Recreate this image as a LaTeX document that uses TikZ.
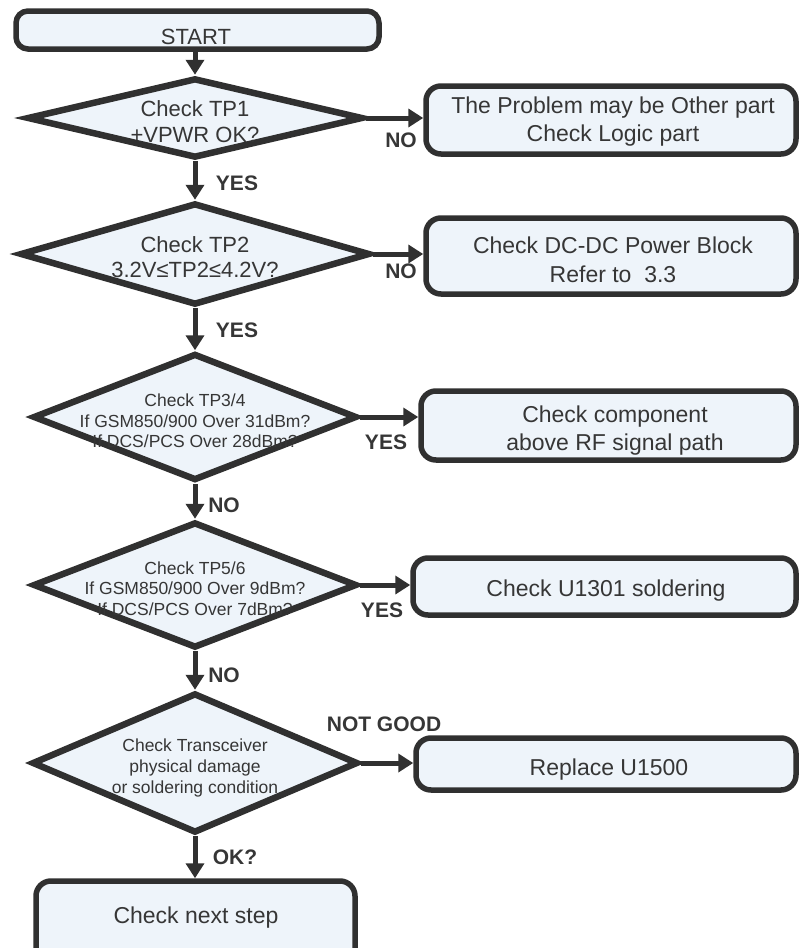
\documentclass[tikz,border=0pt]{standalone}
\usepackage{fontspec}
\setmainfont{Liberation Sans}
\usetikzlibrary{shapes.geometric,arrows.meta}
\definecolor{ln}{HTML}{303030}
\definecolor{fl}{HTML}{EEF4FA}
\definecolor{tx}{HTML}{363636}
\begin{document}
\begin{tikzpicture}[x=1pt,y=-1pt,
  box/.style={draw=ln,fill=fl,line width=5.5pt,rounded corners=15pt,inner sep=0pt},
  dia/.style={diamond,draw=ln,fill=fl,line width=6.5pt,inner sep=0pt},
  btext/.style={text=tx,align=center,inner sep=0pt,font=\fontsize{23}{28}\selectfont},
  dtext/.style={text=tx,align=center,inner sep=0pt},
  lab/.style={text=tx,font=\bfseries\fontsize{21}{24}\selectfont,inner sep=0pt},
  arr/.style={draw=ln,line width=5pt,-{Triangle[length=15pt,width=18pt]}}]
\useasboundingbox (0,0) rectangle (800,948);
\clip (0,0) rectangle (800,948);

% START
\node[box,minimum width=363pt,minimum height=38pt,rounded corners=12pt] (start) at (197.5,30) {};
\node[dtext,font=\fontsize{22}{26}\selectfont] (startt) at (196,37) {START};

% decision 1
\node[dia,minimum width=336pt,minimum height=80pt] (d1) at (195,118) {};
\node[dtext,font=\fontsize{22}{26}\selectfont] (d1t) at (195,121.5) {Check TP1\\+VPWR OK?};
\node[box,minimum width=370pt,minimum height=68pt] (b1) at (611,120) {};
\node[btext] (b1t) at (613,122) {The Problem may be Other part\\Check Logic part};

% decision 2
\node[dia,minimum width=350pt,minimum height=102pt] (d2) at (195,254) {};
\node[dtext,font=\fontsize{22}{25}\selectfont] (d2t) at (195,257) {Check TP2\\3.2V≤TP2≤4.2V?};
\node[box,minimum width=370pt,minimum height=76pt] (b2) at (611,256) {};
\node[btext,font=\fontsize{23}{29}\selectfont] (b2t) at (613,259.5) {Check DC-DC Power Block\\Refer to\ \ 3.3};

% decision 3
\node[dia,minimum width=324pt,minimum height=127pt] (d3) at (195,417) {};
\node[dtext,font=\fontsize{17.5}{20.5}\selectfont] (d3t) at (195,421) {Check TP3/4\\If GSM850/900 Over 31dBm?\\If DCS/PCS Over 28dBm?};
\node[box,minimum width=375pt,minimum height=69pt] (b3) at (608.5,425.5) {};
\node[btext] (b3t) at (615,431) {Check component\\above RF signal path};

% decision 4
\node[dia,minimum width=324pt,minimum height=126pt] (d4) at (195,585) {};
\node[dtext,font=\fontsize{17.5}{20.5}\selectfont] (d4t) at (195,588.5) {Check TP5/6\\If GSM850/900 Over 9dBm?\\If DCS/PCS Over 7dBm?};
\node[box,minimum width=383pt,minimum height=57pt] (b4) at (604.5,586.5) {};
\node[btext] (b4t) at (606,590.5) {Check U1301 soldering};

% decision 5
\node[dia,minimum width=326pt,minimum height=140pt] (d5) at (195,763) {};
\node[dtext,font=\fontsize{17.5}{21}\selectfont] (d5t) at (195,768) {Check Transceiver\\physical damage\\or soldering condition};
\node[box,minimum width=380pt,minimum height=52pt] (b5) at (606,764) {};
\node[btext] (b5t) at (609,770) {Replace U1500};

% final
\node[box,minimum width=319pt,minimum height=94pt] (fin) at (195.5,928) {};
\node[btext] (fint) at (196,918) {Check next step};

% connectors
\draw[arr] (start.south -| d1.north) -- (d1.north);
\draw[arr] (d1.south) -- (d2.north);
\draw[arr] (d2.south) -- (d3.north);
\draw[arr] (d3.south) -- (d4.north);
\draw[arr] (d4.south) -- (d5.north);
\draw[arr] (d5.south) -- (d5.south |- fin.north);
\draw[arr] (d1.east) -- (d1.east -| b1.west);
\draw[arr] (d2.east) -- (d2.east -| b2.west);
\draw[arr] (d3.east) -- (d3.east -| b3.west);
\draw[arr] (d4.east) -- (d4.east -| b4.west);
\draw[arr] (d5.east) -- (d5.east -| b5.west);

% labels
\node[lab] (l1) at (401,140) {NO};
\node[lab] (l2) at (401,271) {NO};
\node[lab] (l3) at (386,442) {YES};
\node[lab] (l4) at (382,610) {YES};
\node[lab] (l5) at (384,724) {NOT GOOD};
\node[lab] (l6) at (237,183) {YES};
\node[lab] (l7) at (237,330) {YES};
\node[lab] (l8) at (224,505) {NO};
\node[lab] (l9) at (224,675) {NO};
\node[lab] (l10) at (235,857) {OK?};
\end{tikzpicture}
\end{document}
